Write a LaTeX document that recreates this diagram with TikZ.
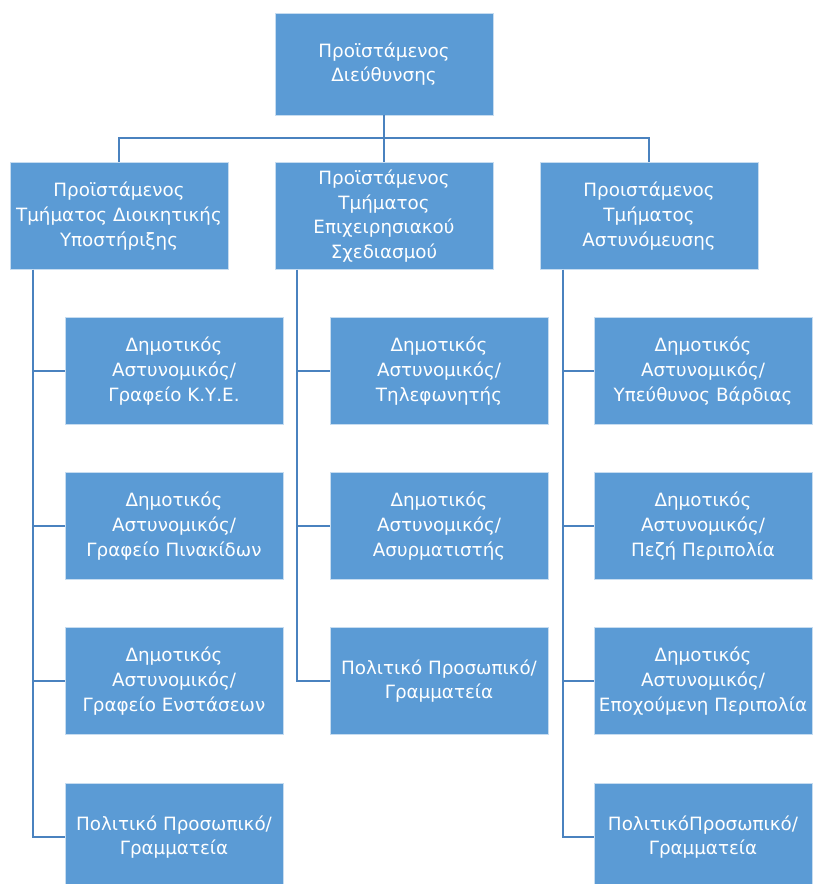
\documentclass[tikz,border=0pt]{standalone}
\usepackage{fontspec}
\setmainfont{DejaVu Sans}
\definecolor{boxblue}{HTML}{5B9BD5}
\definecolor{linkblue}{HTML}{4A82BF}
\begin{document}
\begin{tikzpicture}[x=1pt,y=-1pt,
  box/.style={rectangle, fill=boxblue, draw=boxblue!35!white, line width=0.8pt,
    minimum width=218, minimum height=107, inner sep=0pt, align=center,
    text=white, font=\fontsize{18.3}{24.8}\selectfont},
  link/.style={draw=linkblue, line width=1.8pt}]
\useasboundingbox (0,0) rectangle (814,884);
\clip (0,0) rectangle (814,884);
% top
\node[box, minimum height=102] (top) at (384,64) {Προϊστάμενος\\Διεύθυνσης};
% level 2
\node[box] (a) at (119,216) {Προϊστάμενος\\Τμήματος Διοικητικής\\Υποστήριξης};
\node[box] (b) at (384,216) {Προϊστάμενος\\Τμήματος\\Επιχειρησιακού\\Σχεδιασμού};
\node[box] (c) at (649,216) {Προιστάμενος\\Τμήματος\\Αστυνόμευσης};
% column a
\node[box] (a1) at (174,371) {Δημοτικός\\Αστυνομικός/\\Γραφείο Κ.Υ.Ε.};
\node[box] (a2) at (174,526) {Δημοτικός\\Αστυνομικός/\\Γραφείο Πινακίδων};
\node[box] (a3) at (174,681) {Δημοτικός\\Αστυνομικός/\\Γραφείο Ενστάσεων};
\node[box] (a4) at (174,837) {Πολιτικό Προσωπικό/\\Γραμματεία};
% column b
\node[box] (b1) at (439,371) {Δημοτικός\\Αστυνομικός/\\Τηλεφωνητής};
\node[box] (b2) at (439,526) {Δημοτικός\\Αστυνομικός/\\Ασυρματιστής};
\node[box] (b3) at (439,681) {Πολιτικό Προσωπικό/\\Γραμματεία};
% column c
\node[box] (c1) at (703,371) {Δημοτικός\\Αστυνομικός/\\Υπεύθυνος Βάρδιας};
\node[box] (c2) at (703,526) {Δημοτικός\\Αστυνομικός/\\Πεζή Περιπολία};
\node[box] (c3) at (703,681) {Δημοτικός\\Αστυνομικός/\\Εποχούμενη Περιπολία};
\node[box] (c4) at (703,837) {ΠολιτικόΠροσωπικό/\\Γραμματεία};
% connectors top -> level 2
\coordinate (bus) at (0,138);
\draw[link] (top.south) -- (b.north);
\draw[link] (a.north) |- (bus -| top.south);
\draw[link] (c.north) |- (bus -| top.south);
% connectors columns
\coordinate (ax) at (33,0);
\foreach \n in {a1,a2,a3,a4}{\draw[link] (ax |- a.south) |- (\n.west);}
\coordinate (bx) at (297,0);
\foreach \n in {b1,b2,b3}{\draw[link] (bx |- b.south) |- (\n.west);}
\coordinate (cx) at (563,0);
\foreach \n in {c1,c2,c3,c4}{\draw[link] (cx |- c.south) |- (\n.west);}
\end{tikzpicture}
\end{document}
